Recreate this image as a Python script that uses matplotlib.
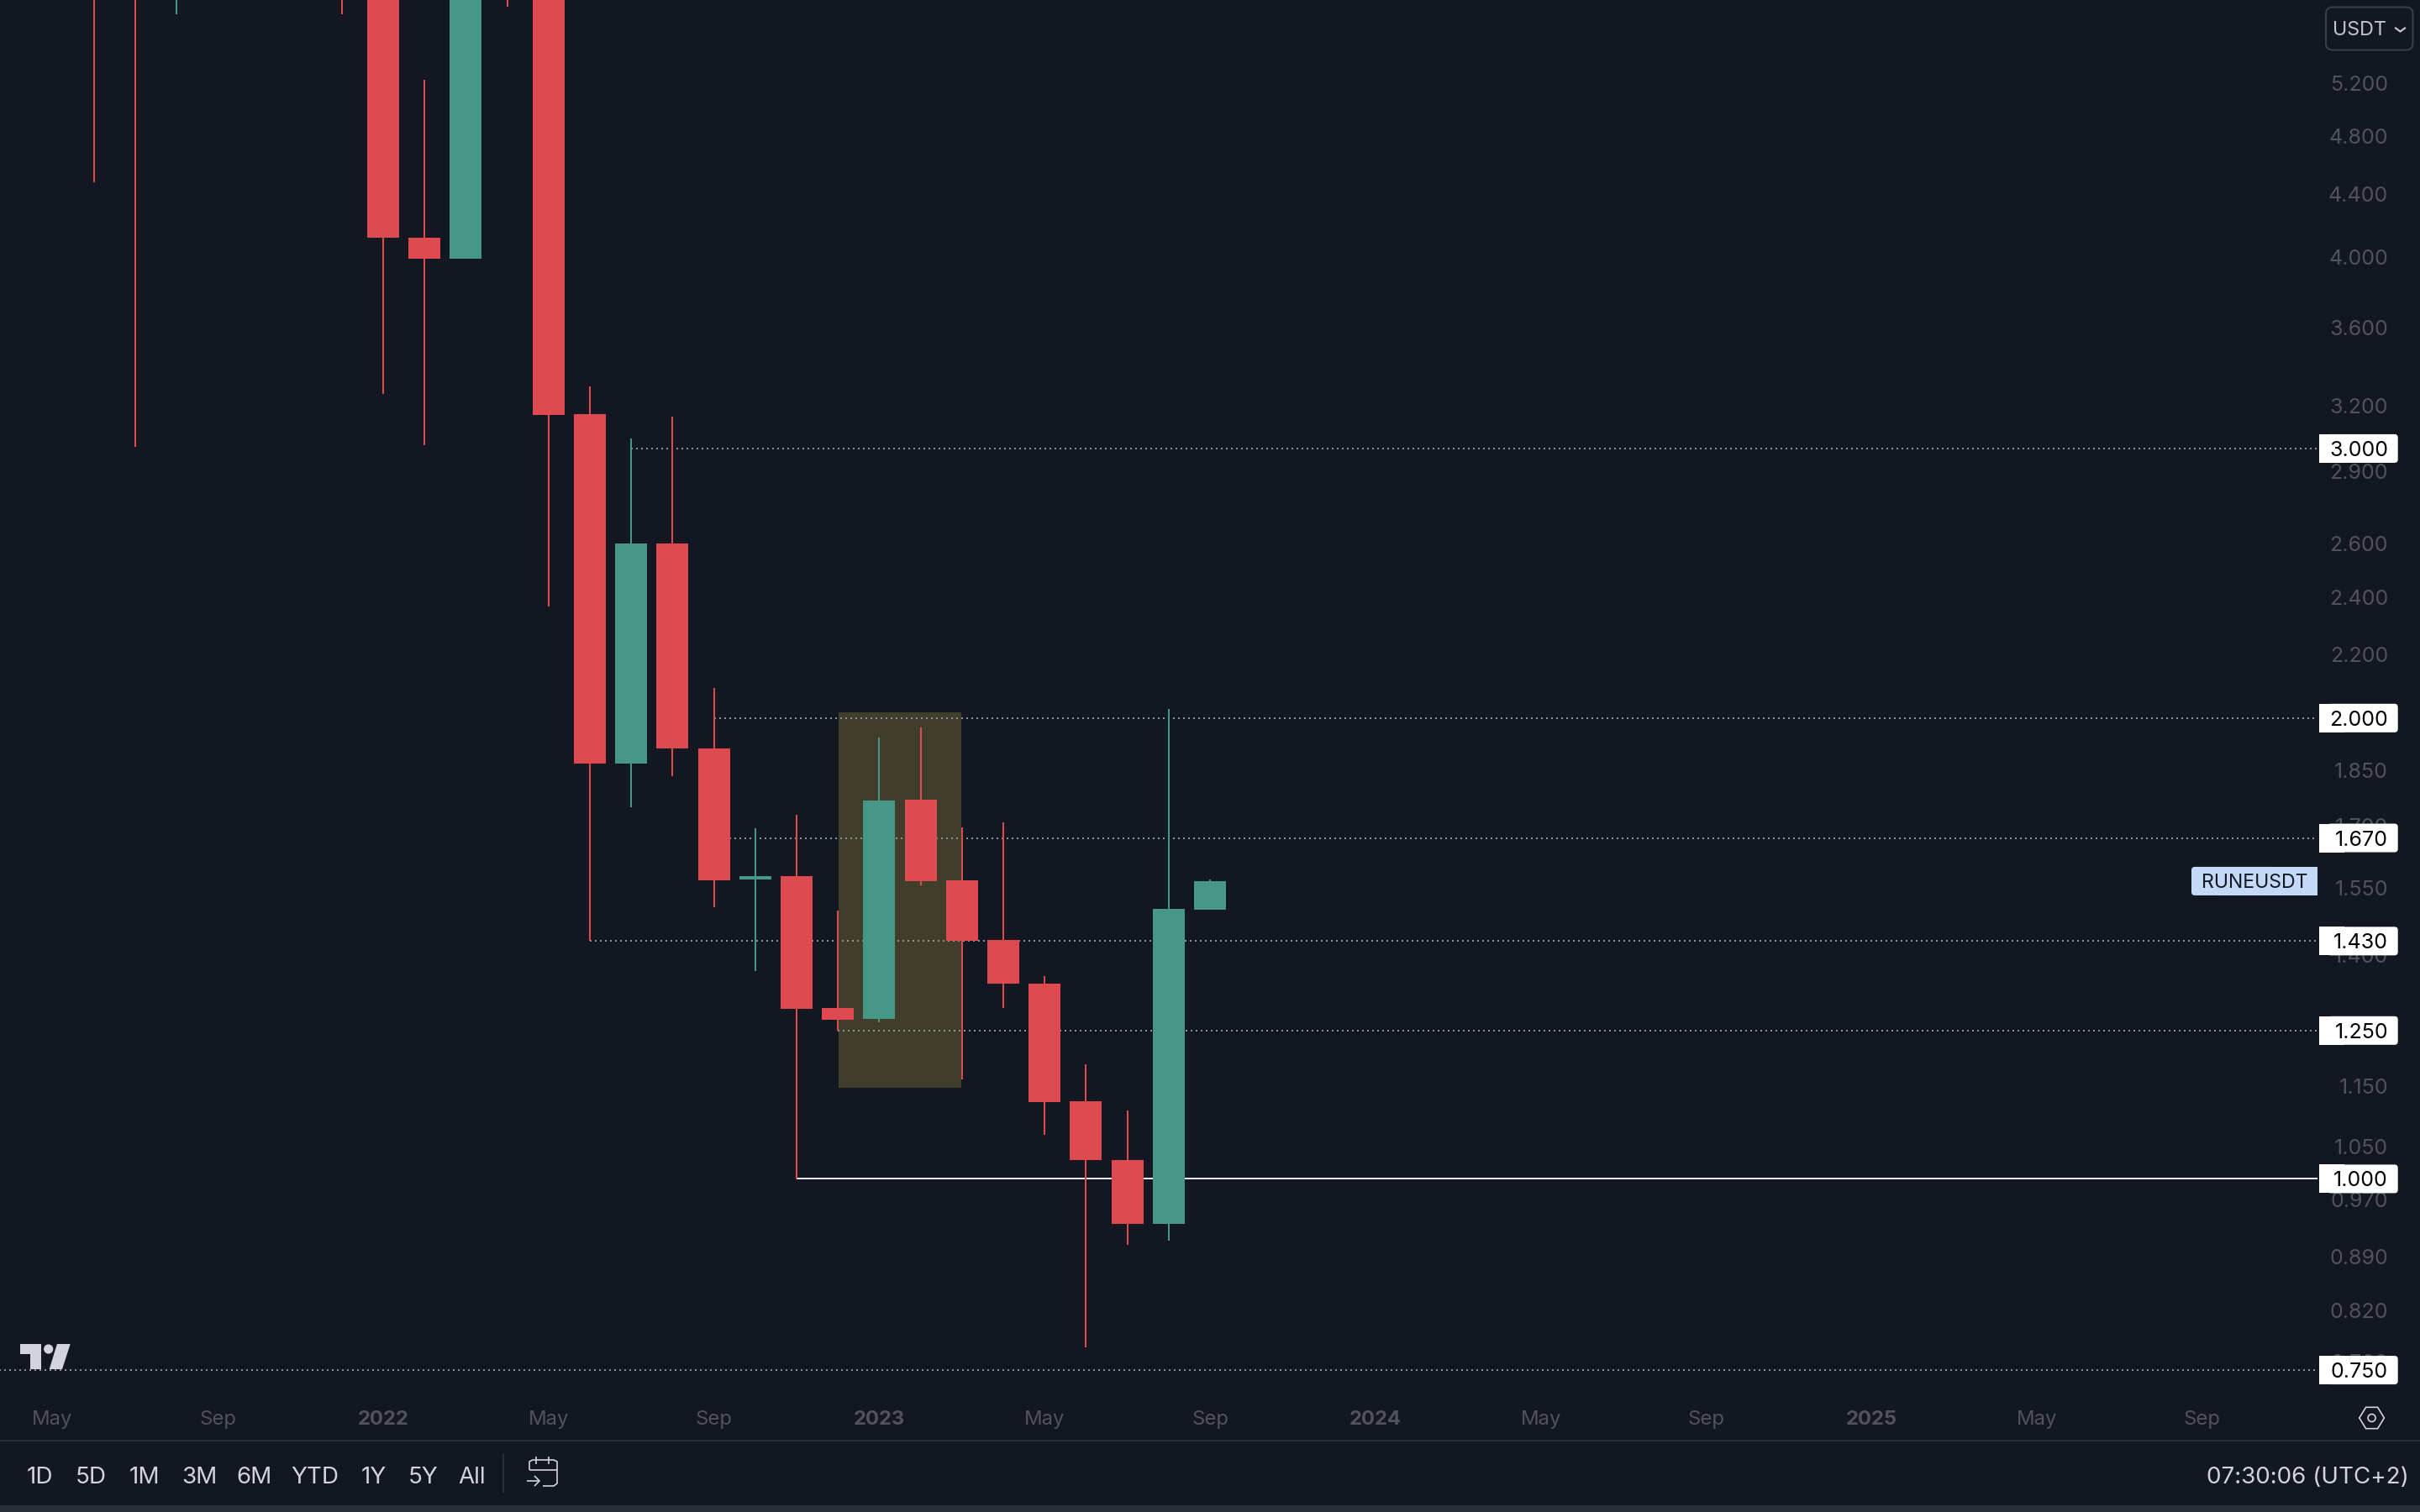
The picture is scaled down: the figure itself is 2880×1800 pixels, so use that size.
import numpy as np
import matplotlib
matplotlib.use("Agg")
import matplotlib.pyplot as plt
from matplotlib.patches import Rectangle, FancyBboxPatch, Polygon, Circle
from matplotlib.lines import Line2D

plt.rcParams['font.family'] = ['Inter', 'DejaVu Sans']

# ---- data: monthly candles, Jun 2021 .. Sep 2023 (values above the top of the view are estimates)
months = ['2021-06','2021-07','2021-08','2021-09','2021-10','2021-11','2021-12',
          '2022-01','2022-02','2022-03','2022-04','2022-05','2022-06','2022-07','2022-08','2022-09','2022-10','2022-11','2022-12',
          '2023-01','2023-02','2023-03','2023-04','2023-05','2023-06','2023-07','2023-08','2023-09']
opens  = [14.0, 7.2, 6.6, 10.5, 9.0, 11.5, 14.0,
          9.0, 4.119, 3.991, 9.0, 6.6, 3.159, 1.868, 2.599, 1.911, 1.569, 1.577, 1.293,
          1.272, 1.769, 1.567, 1.432, 1.341, 1.124, 1.029, 0.9345, 1.499]
highs  = [17.0, 8.5, 11.5, 13.0, 12.5, 20.0, 15.0,
          10.5, 5.224, 9.5, 11.0, 7.0, 3.294, 3.046, 3.148, 2.093, 1.695, 1.729, 1.497,
          1.942, 1.972, 1.697, 1.710, 1.357, 1.188, 1.108, 2.028, 1.569]
lows   = [4.479, 3.007, 5.765, 7.5, 8.0, 9.5, 5.765,
          3.258, 3.015, 3.991, 5.831, 2.366, 1.4315, 1.749, 1.833, 1.505, 1.367, 1.000, 1.250,
          1.266, 1.555, 1.161, 1.293, 1.068, 0.776, 0.9055, 0.9112, 1.499]
closes = [7.2, 6.6, 10.5, 9.0, 11.5, 14.0, 9.0,
          4.119, 3.991, 9.0, 6.6, 3.155, 1.868, 2.599, 1.911, 1.567, 1.577, 1.291, 1.270,
          1.767, 1.565, 1.431, 1.341, 1.122, 1.029, 0.9345, 1.501, 1.565]

price_ticks = [5.2, 4.8, 4.4, 4.0, 3.6, 3.2, 2.9, 2.6, 2.4, 2.2, 1.85, 1.7, 1.55, 1.4, 1.15, 1.05, 0.97, 0.89, 0.82, 0.76]
time_ticks = [-1, 3, 7, 11, 15, 19, 23, 27, 31, 35, 39, 43, 47, 51]
time_labels = ['May', 'Sep', '2022', 'May', 'Sep', '2023', 'May', 'Sep', '2024', 'May', 'Sep', '2025', 'May', 'Sep']

# horizontal levels: price, index of the first month, solid?
level_prices = [3.0, 2.0, 1.67, 1.43, 1.25, 1.0, 0.75]
level_starts = [13, 15, 15, 12, 18, 17, -3]
level_solid  = [False, False, False, False, False, True, False]

zone_months = (18.02, 20.98)
zone_prices = (1.147, 2.017)

symbol = 'RUNEUSDT'
ranges = ['1D', '5D', '1M', '3M', '6M', 'YTD', '1Y', '5Y', 'All']
range_centers = [47.7, 108, 172.4, 237.3, 302.5, 375, 445.3, 504, 561.7]
clock = '07:30:06 (UTC+2)'

# ---- colours
BG = '#131722'
RED = '#DF4A50'
GREEN = '#449885'
GREY = '#50535E'
LIGHT = '#D1D4DC'
LINE = '#2A2E39'

W, H = 2880, 1800
DPI = 200
fig = plt.figure(figsize=(W / DPI, H / DPI), dpi=DPI, facecolor=BG)
PANE_R, PANE_B = 2758, 1660
ax = fig.add_axes([0, 1 - PANE_B / H, PANE_R / W, PANE_B / H], facecolor=BG)
ax.set_yscale('log')
ax.set_xlim(-2.27, 53.79)
ax.set_ylim(0.7231, 5.890)
ax.set_axisbelow(True)
for s in ax.spines.values():
    s.set_visible(False)

x = np.arange(len(months))
o, h, l, c = map(np.array, (opens, highs, lows, closes))
colors = [GREEN if cc >= oo else RED for oo, cc in zip(o, c)]

ax.add_patch(Rectangle((zone_months[0], zone_prices[0]), zone_months[1] - zone_months[0],
                       zone_prices[1] - zone_prices[0], facecolor='#403E2B', edgecolor='none', zorder=1))

for p, st, solid in zip(level_prices, level_starts, level_solid):
    if solid:
        ax.plot([st, 60], [p, p], color='#E6E7EA', lw=0.72, zorder=2, solid_capstyle='butt')
    else:
        ax.plot([st, 60], [p, p], color='#8F9197', lw=0.72, ls=(0, (1, 2)), zorder=2, dash_capstyle='butt')

ax.vlines(x, l, h, colors=colors, lw=0.72, zorder=3)
bottoms = np.minimum(o, c)
heights = np.abs(c - o)
ax.bar(x, heights, bottom=bottoms, width=38 / 49.2, color=colors, linewidth=0, zorder=4)

ax.yaxis.tick_right()
ax.set_yticks(price_ticks)
ax.set_yticklabels([f'{v:.3f}' for v in price_ticks], fontsize=9, color=GREY, ha='right')
ax.yaxis.set_minor_locator(matplotlib.ticker.NullLocator())
ax.tick_params(axis='y', length=0, pad=84 * 0.36)
ax.set_xticks(time_ticks)
ax.set_xticklabels(time_labels, fontsize=8.6, color=GREY)
for t in ax.get_xticklabels():
    if t.get_text().isdigit():
        t.set_fontweight('bold')
ax.tick_params(axis='x', length=0, pad=6.7)

# ---- overlay in pixel coordinates for the interface furniture
ov = fig.add_axes([0, 0, 1, 1], facecolor='none')
ov.set_xlim(0, W)
ov.set_ylim(H, 0)
ov.axis('off')

def ypx(price):
    return H - ax.transData.transform((0, price))[1]

for p in level_prices:
    y = ypx(p)
    ov.add_patch(FancyBboxPatch((2770, y - 17), 83.7, 34, boxstyle='round,pad=0,rounding_size=4',
                                facecolor='white', edgecolor='none', zorder=5))
    ov.add_patch(Rectangle((2760, y - 17), 30, 34, facecolor='white', edgecolor='none', zorder=5))
    ov.text(2842, y, f'{p:.3f}', ha='right', va='center_baseline', fontsize=9, color='black', zorder=6)

y = ypx(closes[-1])
ov.add_patch(FancyBboxPatch((2608, y - 17), 100, 34, boxstyle='round,pad=0,rounding_size=4',
                            facecolor='#C3D9F7', edgecolor='none', zorder=5))
ov.add_patch(Rectangle((2640, y - 17), 118, 34, facecolor='#C3D9F7', edgecolor='none', zorder=5))
ov.text(2683, y, symbol, ha='center', va='center_baseline', fontsize=8.3, color=BG, zorder=6)

# currency button
ov.add_patch(FancyBboxPatch((2768, 8.5), 103.5, 51, boxstyle='round,pad=0,rounding_size=8',
                            facecolor=BG, edgecolor='#3A3E4A', lw=0.72, zorder=5))
ov.text(2776.5, 33, 'USDT', ha='left', va='center_baseline', fontsize=8.4, color='#C3C6CE', zorder=6)
ov.add_line(Line2D([2851, 2856.5, 2862], [33.5, 37.5, 33.5], color='#C3C6CE', lw=0.8, zorder=6))

# separators and bottom band
ov.add_line(Line2D([0, W], [1715, 1715], color=LINE, lw=0.72))
ov.add_patch(Rectangle((0, 1792), W, 8, facecolor=LINE, edgecolor='none'))
ov.add_line(Line2D([598.5, 598.5], [1732, 1776], color=LINE, lw=0.72))

for lab, cx in zip(ranges, range_centers):
    ov.text(cx, 1756, lab, ha='center', va='center_baseline', fontsize=10, color=LIGHT)
ov.text(2867, 1756, clock, ha='right', va='center_baseline', fontsize=10, color=LIGHT)

# calendar icon
ic = dict(color=LIGHT, lw=0.6, solid_capstyle='butt')
ov.add_line(Line2D([630, 630, 634, 659, 663, 663, 659, 646], [1750, 1740, 1738, 1738, 1740, 1766, 1769, 1769], **ic))
ov.add_line(Line2D([630, 663], [1750, 1750], **ic))
ov.add_line(Line2D([638, 638], [1734, 1743], **ic))
ov.add_line(Line2D([653, 653], [1734, 1743], **ic))
ov.add_line(Line2D([627, 642], [1763, 1763], **ic))
ov.add_line(Line2D([636, 642, 636], [1757, 1763, 1769], **ic))

# settings icon
cx, cy = 2822.6, 1688
ov.add_patch(Polygon([(cx - 14.8, cy), (cx - 7, cy - 12.7), (cx + 7, cy - 12.7), (cx + 14.8, cy),
                      (cx + 7, cy + 12.7), (cx - 7, cy + 12.7)], closed=True,
                     facecolor='none', edgecolor=LIGHT, lw=0.6))
ov.add_patch(Circle((cx, cy), 4.5, facecolor='none', edgecolor=LIGHT, lw=0.6))

# watermark logo
ov.add_patch(Polygon([(24, 1600), (48.5, 1600), (48.5, 1630), (35.7, 1630), (35.7, 1611.7), (24, 1611.7)],
                     closed=True, facecolor=LIGHT, edgecolor='none'))
ov.add_patch(Circle((57.7, 1606), 5.6, facecolor=LIGHT, edgecolor='none'))
ov.add_patch(Polygon([(67.9, 1600), (83.7, 1600), (74, 1630), (58.7, 1630)],
                     closed=True, facecolor=LIGHT, edgecolor='none'))

fig.savefig('out.png', dpi=DPI, facecolor=BG)
